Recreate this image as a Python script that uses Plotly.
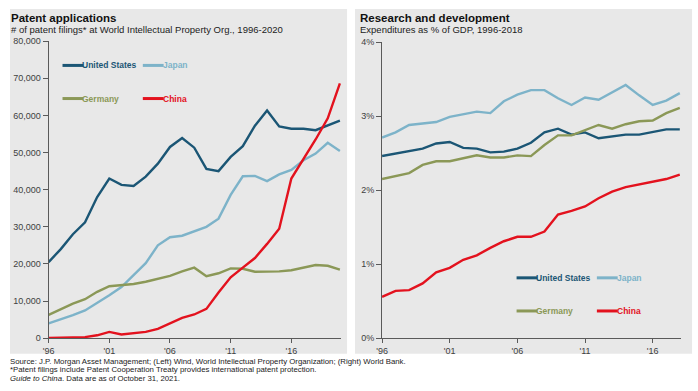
import plotly.graph_objects as go

W, H = 698, 391
FONT = "Liberation Sans, Arial, sans-serif"

# ---------------- data ----------------
pat_years = list(range(1996, 2021))
pat_us = [20.5, 24.0, 28.0, 31.2, 38.0, 43.0, 41.3, 41.0, 43.5, 47.0, 51.5, 53.9, 51.3, 45.6, 45.0,
          48.8, 51.7, 57.2, 61.3, 57.0, 56.4, 56.4, 56.0, 57.2, 58.6]
pat_japan = [4.0, 5.0, 6.2, 7.5, 9.5, 11.6, 13.8, 17.0, 20.2, 25.0, 27.2, 27.6, 28.7, 30.0, 32.2,
             38.6, 43.6, 43.7, 42.3, 44.1, 45.3, 47.9, 49.7, 52.6, 50.4]
pat_germany = [6.3, 7.8, 9.3, 10.5, 12.5, 14.0, 14.2, 14.6, 15.2, 16.0, 16.8, 18.0, 19.0, 16.7, 17.5,
               18.8, 18.7, 17.9, 17.9, 18.0, 18.3, 19.0, 19.7, 19.5, 18.5]
pat_china = [0.1, 0.1, 0.2, 0.3, 0.8, 1.7, 1.0, 1.3, 1.7, 2.5, 4.0, 5.5, 6.4, 7.9, 12.3,
             16.4, 19.0, 21.6, 25.4, 29.5, 43.0, 48.2, 53.5, 59.2, 68.6]
pat_scale = 1000  # values above are in thousands of filings

rd_years = list(range(1996, 2019))
rd_us = [2.46, 2.49, 2.52, 2.56, 2.63, 2.65, 2.57, 2.56, 2.51, 2.52, 2.56, 2.64, 2.78, 2.83, 2.75,
         2.78, 2.70, 2.73, 2.75, 2.75, 2.78, 2.82, 2.82]
rd_japan = [2.71, 2.78, 2.88, 2.90, 2.92, 2.99, 3.03, 3.06, 3.04, 3.20, 3.29, 3.35, 3.35, 3.24, 3.15,
            3.25, 3.22, 3.32, 3.42, 3.28, 3.15, 3.21, 3.31]
rd_germany = [2.15, 2.19, 2.23, 2.34, 2.39, 2.39, 2.43, 2.47, 2.44, 2.44, 2.47, 2.46, 2.61, 2.74, 2.74,
              2.81, 2.88, 2.83, 2.89, 2.93, 2.94, 3.04, 3.11]
rd_china = [0.56, 0.64, 0.65, 0.74, 0.89, 0.95, 1.06, 1.12, 1.22, 1.31, 1.37, 1.37, 1.44, 1.67, 1.72,
            1.78, 1.89, 1.98, 2.04, 2.08, 2.12, 2.15, 2.21]

x_tickvals = [1996, 2001, 2006, 2011, 2016]
x_ticktext = ["'96", "'01", "'06", "'11", "'16"]
pat_tickvals = [0, 10000, 20000, 30000, 40000, 50000, 60000, 70000, 80000]
pat_ticktext = ["0", "10,000", "20,000", "30,000", "40,000", "50,000", "60,000", "70,000", "80,000"]
rd_tickvals = [0, 1, 2, 3, 4]
rd_ticktext = ["0%", "1%", "2%", "3%", "4%"]

names = ["United States", "Japan", "Germany", "China"]
colors = {"United States": "#1b5675", "Japan": "#7db3c9", "Germany": "#8b9857", "China": "#e3121e"}

# ---------------- figure ----------------
def px(x):
    return x / W

def py(y):
    return 1 - y / H

fig = go.Figure()

pat_series = dict(zip(names, [pat_us, pat_japan, pat_germany, pat_china]))
rd_series = dict(zip(names, [rd_us, rd_japan, rd_germany, rd_china]))

for n in names:
    fig.add_trace(go.Scatter(x=pat_years, y=[v * pat_scale for v in pat_series[n]], mode="lines",
                             line=dict(color=colors[n], width=2.4), name=n, showlegend=False,
                             xaxis="x", yaxis="y"))
for n in names:
    fig.add_trace(go.Scatter(x=rd_years, y=rd_series[n], mode="lines",
                             line=dict(color=colors[n], width=2.4), name=n, showlegend=False,
                             xaxis="x2", yaxis="y2"))

axcol = "#5a5a5a"
tickfont = dict(family=FONT, size=9, color="#404040")
common_x = dict(tickmode="array", tickvals=x_tickvals, ticktext=x_ticktext, showgrid=False,
                zeroline=False, showline=True, linecolor=axcol, linewidth=1, ticks="outside",
                ticklen=4, tickcolor=axcol, tickfont=tickfont)
common_y = dict(tickmode="array", showgrid=False, zeroline=False, showline=True, linecolor=axcol,
                linewidth=1, ticks="outside", ticklen=5, tickcolor=axcol, tickfont=tickfont)

fig.update_layout(
    width=W, height=H,
    margin=dict(l=0, r=0, t=0, b=0),
    paper_bgcolor="white",
    plot_bgcolor="rgba(0,0,0,0)",
    showlegend=False,
    xaxis=dict(domain=[px(43), px(338)], range=[1996, 2020.1], anchor="y", **common_x),
    yaxis=dict(domain=[py(342), py(37)], range=[0, 80000], anchor="x", tickvals=pat_tickvals,
               ticktext=pat_ticktext, **common_y),
    xaxis2=dict(domain=[px(379.3), px(681)], range=[1996, 2018.1], anchor="y2", **common_x),
    yaxis2=dict(domain=[py(342), py(38)], range=[0, 4], anchor="x2", tickvals=rd_tickvals,
                ticktext=rd_ticktext, **common_y),
)

shapes = []
# panel backgrounds
for x0, x1 in [(4, 344), (352, 692)]:
    shapes.append(dict(type="rect", xref="paper", yref="paper", x0=px(x0), x1=px(x1),
                       y0=py(358), y1=py(4), fillcolor="#e8e8e8", line=dict(width=0), layer="below"))

annotations = []
SH = -6
# titles
for x, title, sub in [(9, "Patent applications", "# of patent filings* at World Intellectual Property Org., 1996-2020"),
                      (361, "Research and development", "Expenditures as % of GDP, 1996-2018")]:
    annotations.append(dict(xref="paper", yref="paper", x=px(x), y=py(13.5), xanchor="left", yanchor="middle",
                            text="<b>" + title + "</b>", showarrow=False, xshift=SH,
                            font=dict(family=FONT, size=11.5, color="#111111")))
    annotations.append(dict(xref="paper", yref="paper", x=px(x), y=py(25.5), xanchor="left", yanchor="middle",
                            text=sub, showarrow=False, xshift=SH,
                            font=dict(family=FONT, size=9.5, color="#222222")))

# legends (swatch line + label)
legend_pos = {
    "left": {"United States": (57, 62), "Japan": (138, 62), "Germany": (57, 96), "China": (138, 96)},
    "right": {"United States": (515, 280), "Japan": (596, 280), "Germany": (515, 314), "China": (596, 314)},
}
for side in legend_pos:
    for n, (lx, ly) in legend_pos[side].items():
        shapes.append(dict(type="line", xref="paper", yref="paper", x0=px(lx), x1=px(lx + 21),
                           y0=py(ly), y1=py(ly), line=dict(color=colors[n], width=3)))
        annotations.append(dict(xref="paper", yref="paper", x=px(lx + 21), y=py(ly), xanchor="left",
                                yanchor="middle", text="<b>" + n + "</b>", showarrow=False, xshift=-3,
                                font=dict(family=FONT, size=8.5, color=colors[n])))

# footnotes
foot = [
    "Source: J.P. Morgan Asset Management; (Left) Wind, World Intellectual Property Organization; (Right) World Bank.",
    "*Patent filings include Patent Cooperation Treaty provides international patent protection.",
    "<i>Guide to China</i>. Data are as of October 31, 2021.",
]
for i, t in enumerate(foot):
    annotations.append(dict(xref="paper", yref="paper", x=px(8), y=py(365.5 + 9 * i), xanchor="left",
                            yanchor="middle", text=t, showarrow=False, xshift=SH,
                            font=dict(family=FONT, size=7.8, color="#222222")))

fig.update_layout(shapes=shapes, annotations=annotations)

fig.write_html("out.html", config={"displayModeBar": False},
               post_script="document.body.style.margin='0';")
